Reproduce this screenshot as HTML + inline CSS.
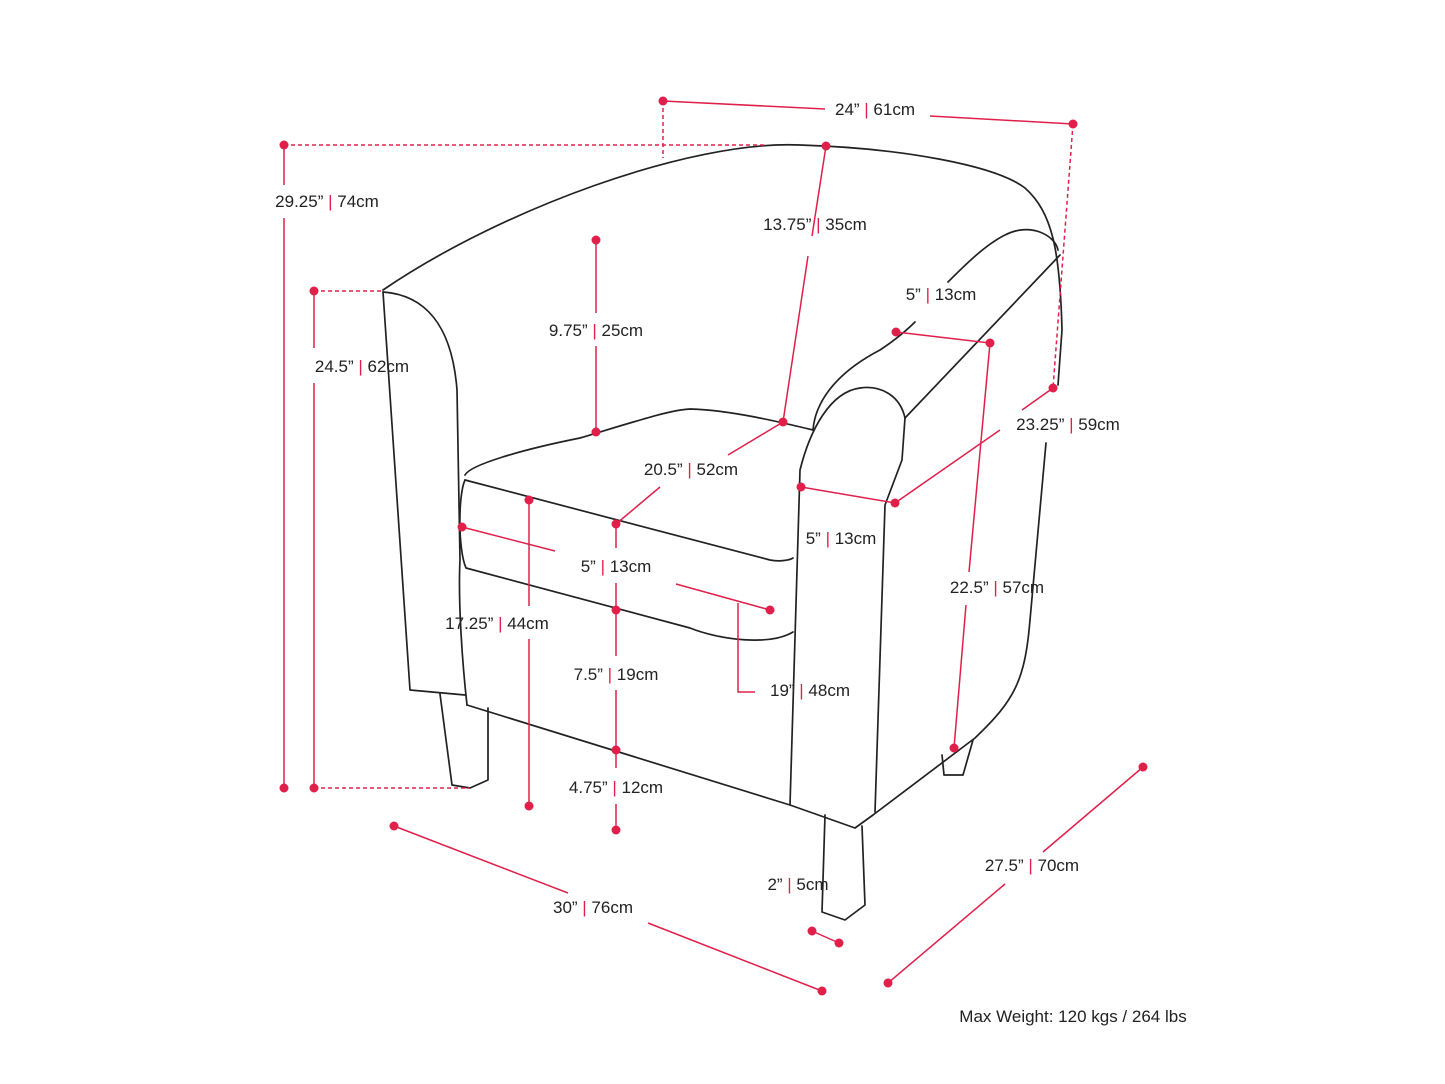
<!DOCTYPE html>
<html><head><meta charset="utf-8"><style>
html,body{margin:0;padding:0;background:#fff;}
svg{display:block;}
text{font-family:"Liberation Sans",sans-serif;font-size:17px;fill:#222;}
.r{fill:#e0204a;}
</style></head><body>
<svg width="1445" height="1084" viewBox="0 0 1445 1084" xmlns="http://www.w3.org/2000/svg">
<g fill="none" stroke="#222" stroke-width="1.7" stroke-linejoin="round" stroke-linecap="round">
<path d="M383,290 C500,210 690,140 800,145 C900,148 995,165 1025,188 C1052,212 1060,250 1062,330 L1058,385"/>
<path d="M1046,443 L1030,620 C1025,680 1015,700 975,738 L873,815"/>
<path d="M383,292 L410,690 L465,695"/>
<path d="M383,292 C425,295 452,325 457,390 L460,560 C458,600 462,660 467,705"/>
<path d="M467,705 L790,805 L855,828 L873,815"/>
<path d="M440,694 L452,785 L470,788 L488,780 L488,708"/>
<path d="M465,475 C470,465 520,450 580,438 C640,420 670,410 690,409 C730,410 780,422 813,430"/>
<path d="M465,480 L770,560 C780,562 790,560 793,558"/>
<path d="M465,480 C458,495 458,550 466,568 L690,628 C720,640 770,646 793,632"/>
<path d="M813,430 C815,405 832,375 880,350 C895,340 905,332 915,322"/>
<path d="M948,282 C965,265 985,245 1005,235 C1030,222 1055,235 1058,250"/>
<path d="M905,418 L1060,255"/>
<path d="M905,418 C900,395 880,385 860,388 C830,392 810,430 800,470 L790,805"/>
<path d="M905,418 L902,460 L885,505 L875,812"/>
<path d="M825,815 L822,912 L845,920 L865,905 L862,826"/>
<path d="M942,755 L944,775 L963,775 L973,740"/>
</g>
<g stroke="#e0204a" stroke-width="1.5" fill="none">
<line x1="663" y1="101" x2="825" y2="109"/><line x1="930" y1="116" x2="1073" y2="124"/>
<line x1="663" y1="101" x2="663" y2="158" stroke-dasharray="4,3"/>
<line x1="1073" y1="124" x2="1053" y2="388" stroke-dasharray="4,3"/>
<line x1="284" y1="145" x2="765" y2="145" stroke-dasharray="4,3"/>
<line x1="284" y1="145" x2="284" y2="185"/><line x1="284" y1="218" x2="284" y2="788"/>
<line x1="314" y1="291" x2="383" y2="291" stroke-dasharray="4,3"/>
<line x1="314" y1="788" x2="470" y2="788" stroke-dasharray="4,3"/>
<line x1="314" y1="291" x2="314" y2="348"/><line x1="314" y1="383" x2="314" y2="788"/>
<line x1="826" y1="146" x2="812" y2="236"/><line x1="808" y1="256" x2="783" y2="422"/>
<line x1="596" y1="240" x2="596" y2="313"/><line x1="596" y1="346" x2="596" y2="432"/>
<line x1="896" y1="332" x2="990" y2="343"/>
<line x1="1053" y1="388" x2="1022" y2="410"/><line x1="1000" y1="430" x2="895" y2="503"/>
<line x1="990" y1="343" x2="969" y2="572"/><line x1="966" y1="605" x2="954" y2="748"/>
<line x1="783" y1="422" x2="728" y2="455"/><line x1="660" y1="487" x2="616" y2="524"/>
<line x1="801" y1="487" x2="895" y2="503"/>
<line x1="462" y1="527" x2="555" y2="551"/><line x1="676" y1="584" x2="770" y2="610"/>
<polyline points="738,603 738,692 755,692"/>
<line x1="529" y1="500" x2="529" y2="606"/><line x1="529" y1="639" x2="529" y2="806"/>
<line x1="616" y1="524" x2="616" y2="548"/><line x1="616" y1="583" x2="616" y2="656"/>
<line x1="616" y1="690" x2="616" y2="768"/><line x1="616" y1="804" x2="616" y2="830"/>
<line x1="394" y1="826" x2="568" y2="893"/><line x1="648" y1="923" x2="822" y2="991"/>
<line x1="812" y1="931" x2="839" y2="943"/>
<line x1="1143" y1="767" x2="1043" y2="852"/><line x1="1005" y1="884" x2="888" y2="983"/>
</g>
<g class="r">
<circle cx="663" cy="101" r="4.5"/><circle cx="1073" cy="124" r="4.5"/>
<circle cx="284" cy="145" r="4.5"/><circle cx="284" cy="788" r="4.5"/>
<circle cx="314" cy="291" r="4.5"/><circle cx="314" cy="788" r="4.5"/>
<circle cx="826" cy="146" r="4.5"/><circle cx="783" cy="422" r="4.5"/>
<circle cx="596" cy="240" r="4.5"/><circle cx="596" cy="432" r="4.5"/>
<circle cx="896" cy="332" r="4.5"/><circle cx="990" cy="343" r="4.5"/>
<circle cx="1053" cy="388" r="4.5"/><circle cx="895" cy="503" r="4.5"/>
<circle cx="954" cy="748" r="4.5"/><circle cx="801" cy="487" r="4.5"/>
<circle cx="616" cy="524" r="4.5"/><circle cx="462" cy="527" r="4.5"/>
<circle cx="770" cy="610" r="4.5"/><circle cx="529" cy="500" r="4.5"/>
<circle cx="529" cy="806" r="4.5"/><circle cx="616" cy="610" r="4.5"/>
<circle cx="616" cy="750" r="4.5"/><circle cx="616" cy="830" r="4.5"/>
<circle cx="394" cy="826" r="4.5"/><circle cx="822" cy="991" r="4.5"/>
<circle cx="812" cy="931" r="4.5"/><circle cx="839" cy="943" r="4.5"/>
<circle cx="1143" cy="767" r="4.5"/><circle cx="888" cy="983" r="4.5"/>
</g>
<g text-anchor="middle">
<text x="875" y="115">24” <tspan class="r">|</tspan> 61cm</text>
<text x="327" y="207">29.25” <tspan class="r">|</tspan> 74cm</text>
<text x="362" y="372">24.5” <tspan class="r">|</tspan> 62cm</text>
<text x="815" y="230">13.75” <tspan class="r">|</tspan> 35cm</text>
<text x="596" y="336">9.75” <tspan class="r">|</tspan> 25cm</text>
<text x="941" y="300">5” <tspan class="r">|</tspan> 13cm</text>
<text x="1068" y="430">23.25” <tspan class="r">|</tspan> 59cm</text>
<text x="997" y="593">22.5” <tspan class="r">|</tspan> 57cm</text>
<text x="691" y="475">20.5” <tspan class="r">|</tspan> 52cm</text>
<text x="841" y="544">5” <tspan class="r">|</tspan> 13cm</text>
<text x="616" y="572">5” <tspan class="r">|</tspan> 13cm</text>
<text x="810" y="696">19” <tspan class="r">|</tspan> 48cm</text>
<text x="497" y="629">17.25” <tspan class="r">|</tspan> 44cm</text>
<text x="616" y="680">7.5” <tspan class="r">|</tspan> 19cm</text>
<text x="616" y="793">4.75” <tspan class="r">|</tspan> 12cm</text>
<text x="593" y="913">30” <tspan class="r">|</tspan> 76cm</text>
<text x="798" y="890">2” <tspan class="r">|</tspan> 5cm</text>
<text x="1032" y="871">27.5” <tspan class="r">|</tspan> 70cm</text>
<text x="1073" y="1022">Max Weight: 120 kgs / 264 lbs</text>
</g>
</svg>
</body></html>
